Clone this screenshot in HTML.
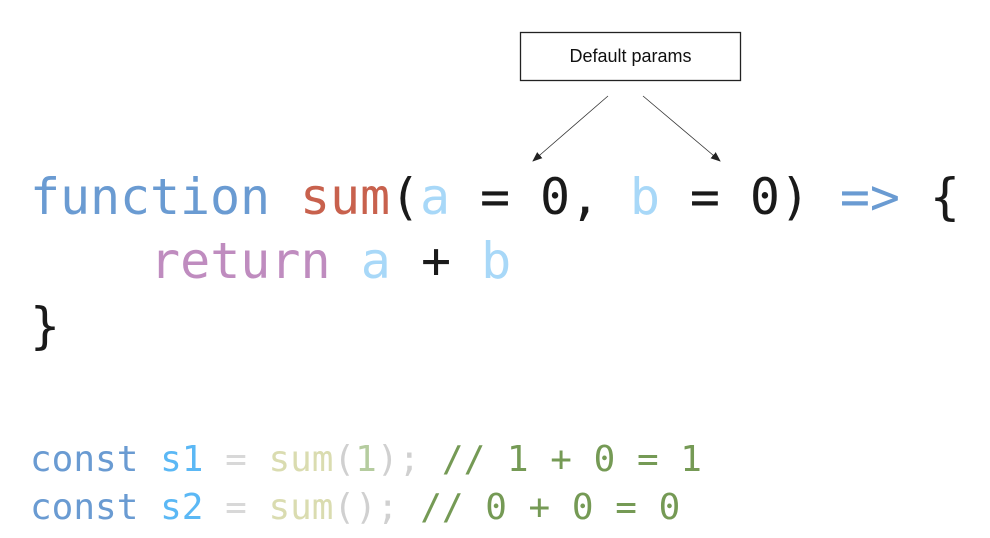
<!DOCTYPE html>
<html><head><meta charset="utf-8"><style>html,body{margin:0;padding:0;background:#fff;width:990px;height:538px;overflow:hidden}text{white-space:pre}</style></head>
<body>
<svg width="990" height="538" xmlns="http://www.w3.org/2000/svg" style="display:block">
<defs><marker id="ah" markerWidth="10" markerHeight="8" refX="9" refY="4" orient="auto" markerUnits="userSpaceOnUse"><path d="M0,0 L10,4 L0,8 z" fill="#222"/></marker></defs>
<rect x="520.5" y="32.5" width="220" height="48" fill="#fff" stroke="#222" stroke-width="1.3"/>
<text x="630.5" y="62" text-anchor="middle" font-family="Liberation Sans, sans-serif" font-size="18" fill="#111">Default params</text>
<line x1="608" y1="96" x2="533" y2="161" stroke="#333" stroke-width="0.8" marker-end="url(#ah)"/>
<line x1="643" y1="96" x2="720" y2="161" stroke="#333" stroke-width="0.8" marker-end="url(#ah)"/>
<g font-family="DejaVu Sans Mono, Liberation Mono, monospace" font-size="50" xml:space="preserve">
<text x="30" y="214" textLength="930" lengthAdjust="spacing"><tspan fill="#6a9bd2">function</tspan> <tspan fill="#c8614d">sum</tspan><tspan fill="#1a1a1a">(</tspan><tspan fill="#a8d8f8">a</tspan><tspan fill="#1a1a1a"> = 0, </tspan><tspan fill="#a8d8f8">b</tspan><tspan fill="#1a1a1a"> = 0) </tspan><tspan fill="#6a9bd2">=&gt;</tspan><tspan fill="#1a1a1a"> {</tspan></text>
<text x="150" y="278"><tspan fill="#bf8cbf">return</tspan> <tspan fill="#a8d8f8">a</tspan><tspan fill="#1a1a1a"> + </tspan><tspan fill="#a8d8f8">b</tspan></text>
<text x="30" y="343" fill="#1a1a1a">}</text>
</g>
<g font-family="DejaVu Sans Mono, Liberation Mono, monospace" font-size="36" xml:space="preserve">
<text x="30" y="471"><tspan fill="#6a9bd2">const</tspan> <tspan fill="#5bb8f5">s1</tspan><tspan fill="#d8d8d8"> = </tspan><tspan fill="#dadcb0">sum</tspan><tspan fill="#d0d0d0">(</tspan><tspan fill="#b5cc9f">1</tspan><tspan fill="#d0d0d0">);</tspan><tspan fill="#759a55"> // 1 + 0 = 1</tspan></text>
<text x="30" y="519"><tspan fill="#6a9bd2">const</tspan> <tspan fill="#5bb8f5">s2</tspan><tspan fill="#d8d8d8"> = </tspan><tspan fill="#dadcb0">sum</tspan><tspan fill="#d0d0d0">();</tspan><tspan fill="#759a55"> // 0 + 0 = 0</tspan></text>
</g>
</svg>
</body></html>
